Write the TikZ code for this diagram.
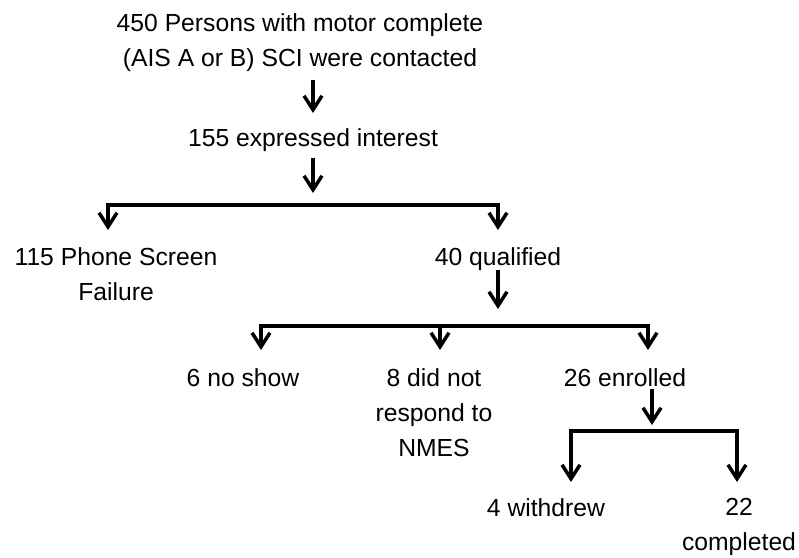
\documentclass[tikz,border=0pt]{standalone}
\usepackage{fontspec}
\setmainfont{Liberation Sans}
\usetikzlibrary{arrows.meta,positioning,calc}

\begin{document}
\begin{tikzpicture}[
    x=1pt, y=-1pt,
    txt/.style={anchor=north, inner sep=0pt, align=center, font=\fontsize{24.7}{35}\selectfont},
    arrow/.style={-{Straight Barb[length=14pt, width=18pt]}, line width=3.5pt},
    branch/.style={{Straight Barb[length=14pt, width=18pt]}-{Straight Barb[length=14pt, width=18pt]}, line width=3.5pt}
]
    \useasboundingbox (0,0) rectangle (799,557);

    % Boxes of the flow, top to bottom
    \node[txt] (contact) at (300,13.6) {450 Persons with motor complete\\(AIS A or B) SCI were contacted};
    \node[txt] (interest) at (313,128) {155 expressed interest};
    \node[txt] (fail) at (116,247) {115 Phone Screen\\Failure};
    \node[txt] (qual) at (498,247) {40 qualified};
    \node[txt] (noshow) at (243,368) {6 no show};
    \node[txt] (nmes) at (434,368) {8 did not\\respond to\\NMES};
    \node[txt] (enrolled) at (625,368) {26 enrolled};
    \node[txt] (withdrew) at (546,498) {4 withdrew};
    \node[txt] (completed) at (739,498) {22\\completed};

    % Split points
    \coordinate (b1) at (313,205);
    \coordinate (b1l) at (108,205);
    \coordinate (b2) at (498,326);
    \coordinate (b2l) at (261,326);
    \coordinate (b2m) at (440,326);
    \coordinate (b2r) at (648,326);
    \coordinate (b3) at (652,431);
    \coordinate (b3l) at (571,431);
    \coordinate (b3r) at (737,431);

    % Connections
    \draw[arrow, shorten <=8pt, shorten >=15pt] (contact.south -| interest) -- (interest);
    \draw[arrow, shorten <=7pt, shorten >=12pt] (interest) -- (b1);
    \draw[branch, shorten <=17pt, shorten >=17pt] (b1l |- fail.north) |- (b1) -| (qual.north);

    \draw[arrow, shorten >=17pt] (qual) -- (b2);
    \draw[branch, shorten <=18pt, shorten >=18pt] (b2l |- noshow.north) |- (b2) -| (b2r |- enrolled.north);
    \draw[arrow, shorten >=18pt] (b2m) -- (b2m |- nmes.north);

    \draw[arrow, shorten <=2pt, shorten >=6pt] (enrolled.south -| b3) -- (b3);
    \draw[branch, shorten <=16pt, shorten >=16pt] (b3l |- withdrew.north) |- (b3) -| (b3r |- completed.north);
\end{tikzpicture}
\end{document}
